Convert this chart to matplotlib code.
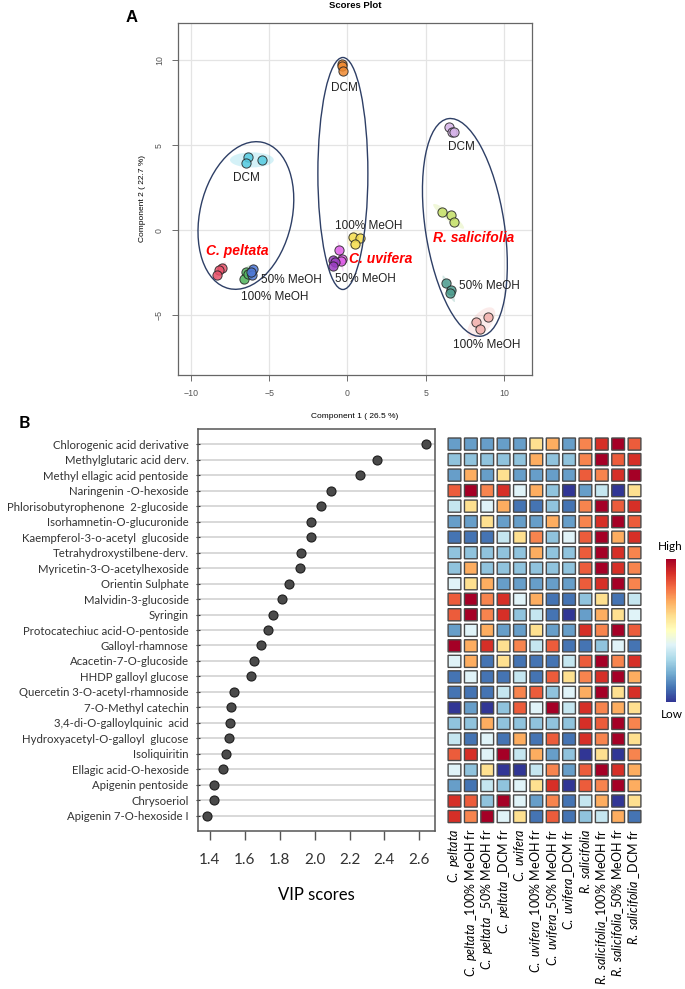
import numpy as np
import matplotlib
matplotlib.use('Agg')
import matplotlib.pyplot as plt
import matplotlib.transforms as mtransforms
from matplotlib.patches import Ellipse, Rectangle
from matplotlib import cm, colors

plt.rcParams['mathtext.fontset'] = 'custom'
plt.rcParams['mathtext.it'] = 'Lato:italic'
plt.rcParams['mathtext.rm'] = 'Lato'

# ---- panel A: PLS-DA scores (3 replicates per group) ----
groups = ['C. peltata', 'C. peltata 100% MeOH', 'C. peltata 50% MeOH', 'C. peltata DCM',
          'C. uvifera', 'C. uvifera 100% MeOH', 'C. uvifera 50% MeOH', 'C. uvifera DCM',
          'R. salicifolia', 'R. salicifolia 50% MeOH', 'R. salicifolia 100% MeOH', 'R. salicifolia DCM']
group_colors = ['#e8536b', '#55b560', '#4f79d6', '#55cbe0',
                '#e060e8', '#f5de50', '#9b3fc2', '#f08a30',
                '#c5e068', '#4f9e90', '#f2b0ac', '#d6b3e8']
comp1 = [[-8.00, -8.21, -8.32], [-6.50, -6.61, -6.35], [-6.02, -6.08, -6.15], [-6.38, -6.49, -5.45],
         [-0.52, -0.37, -0.42], [0.37, 0.80, 0.48], [-0.90, -0.80, -0.90], [-0.33, -0.36, -0.30],
         [6.02, 6.59, 6.80], [6.29, 6.59, 6.55], [8.96, 8.25, 8.47], [6.50, 6.70, 6.80]]
comp2 = [[-2.22, -2.31, -2.61], [-2.43, -2.88, -2.55], [-2.25, -2.59, -2.45], [4.34, 3.98, 4.13],
         [-1.12, -1.67, -1.80], [-0.39, -0.47, -0.82], [-1.75, -1.86, -2.10], [9.76, 9.70, 9.35],
         [1.10, 0.88, 0.51], [-3.08, -3.51, -3.70], [-5.08, -5.39, -5.82], [6.08, 5.78, 5.80]]

# ---- panel B: VIP scores and heatmap ----
compounds = ['Chlorogenic acid derivative', 'Methylglutaric acid derv.', 'Methyl ellagic acid pentoside',
             'Naringenin -O-hexoside', 'Phlorisobutyrophenone  2-glucoside', 'Isorhamnetin-O-glucuronide',
             'Kaempferol-3-o-acetyl  glucoside', 'Tetrahydroxystilbene-derv.', 'Myricetin-3-O-acetylhexoside',
             'Orientin Sulphate', 'Malvidin-3-glucoside', 'Syringin', 'Protocatechiuc acid-O-pentoside',
             'Galloyl-rhamnose', 'Acacetin-7-O-glucoside', 'HHDP galloyl glucose',
             'Quercetin 3-O-acetyl-rhamnoside', '7-O-Methyl catechin', '3,4-di-O-galloylquinic  acid',
             'Hydroxyacetyl-O-galloyl  glucose', 'Isoliquiritin', 'Ellagic acid-O-hexoside',
             'Apigenin pentoside', 'Chrysoeriol', 'Apigenin 7-O-hexoside I']
vip = [2.637, 2.360, 2.258, 2.092, 2.036, 1.977, 1.977, 1.924, 1.918, 1.855, 1.811, 1.763, 1.734,
       1.694, 1.650, 1.635, 1.536, 1.520, 1.517, 1.507, 1.492, 1.477, 1.425, 1.421, 1.381]

species = ['C. peltata'] * 4 + ['C. uvifera'] * 4 + ['R. salicifolia'] * 4
fractions = ['', ' _100% MeOH fr', ' _50% MeOH fr', ' _DCM fr',
             '', '_100% MeOH fr', '_50% MeOH fr', '_DCM fr',
             '', '_100% MeOH fr', '_50% MeOH fr', ' _DCM fr']

# standardised abundance per compound (rows) and sample group (columns)
heat = [
    [-1.3, -1.3, -1.3, -1.3, -1.3, 0.4, 0.8, -1.3, 1.05, 1.6, 2.0, 1.3],
    [-1.0, -1.0, -1.0, -1.0, -1.0, 0.8, -1.0, -1.0, 1.05, 2.0, 1.3, 1.6],
    [-1.3, 0.8, -1.3, 0.4, -1.3, -1.3, -1.3, -1.3, 1.3, 1.05, 1.6, 2.0],
    [1.3, 2.0, 1.05, 1.6, -0.4, 0.8, -1.0, -2.0, -1.3, -0.6, -2.0, 0.4],
    [-0.6, 0.4, -0.4, 0.8, -1.6, -1.6, -1.0, -1.6, 1.05, 2.0, 1.3, 1.6],
    [-1.3, -1.3, 0.4, -1.3, -1.3, -1.3, 0.8, -1.3, 1.05, 1.6, 2.0, 1.3],
    [-1.6, -1.6, -1.6, -0.6, 0.4, 1.05, -1.0, -0.4, 1.3, 2.0, 0.8, 1.6],
    [-1.0, -1.0, -1.0, -1.0, -1.0, 0.8, -1.0, -1.0, 1.3, 2.0, 1.6, 1.05],
    [-1.0, 0.8, -1.0, -1.0, -1.0, -1.0, -1.0, -1.0, 1.3, 2.0, 1.6, 1.05],
    [-0.4, 0.4, 0.8, -1.3, -1.3, -1.3, -1.3, -1.3, 1.3, 1.6, 2.0, 1.05],
    [1.3, 2.0, 1.05, 1.6, -0.4, 0.8, -1.6, -1.6, -1.0, 0.4, -1.6, -0.6],
    [1.3, 2.0, 1.05, 1.6, -1.0, -0.6, -1.6, -2.0, -1.3, 0.8, 0.4, -0.4],
    [-1.3, -0.4, 0.8, -1.3, -1.3, 0.4, -1.3, -1.3, 1.6, 1.05, 2.0, 1.3],
    [2.0, 0.8, 1.6, 0.4, 1.05, -0.6, 1.3, -1.6, -1.6, -1.0, -0.4, -1.6],
    [-0.4, 0.8, -1.6, 0.4, -1.6, -1.6, -1.6, -0.6, 1.3, 2.0, 1.05, 1.6],
    [-1.6, -0.4, -1.6, -1.6, -0.6, -1.6, 1.3, 0.4, 1.05, 1.6, 2.0, 0.8],
    [-1.6, -1.6, -1.6, -0.6, 1.05, 1.3, -1.0, -0.4, 0.8, 2.0, 0.4, 1.6],
    [-2.0, -1.3, -2.0, -1.0, 1.3, -0.4, 2.0, -0.6, 1.6, 1.05, 0.8, 0.4],
    [-1.0, -1.0, 0.8, -1.0, -1.0, -1.0, -1.0, -1.0, 1.6, 1.3, 2.0, 1.05],
    [-0.6, -1.6, -0.4, -1.6, 0.8, -1.6, 1.3, -1.6, 1.6, 1.05, 2.0, 0.4],
    [1.3, 1.6, -0.4, 2.0, -0.6, 0.8, -1.3, -1.0, -2.0, 0.4, -2.0, 1.05],
    [-0.4, -1.0, 0.4, -2.0, -2.0, -0.6, 1.05, -1.3, 1.3, 2.0, 1.6, 0.8],
    [-1.3, -1.6, -0.6, -1.0, -0.4, 0.4, 1.6, -2.0, 1.3, 1.05, 2.0, 0.8],
    [1.6, 1.3, -1.0, 2.0, -0.4, -1.3, 1.05, -1.6, -0.6, 0.8, -2.0, 0.4],
    [1.6, 1.05, 2.0, -0.4, 0.4, -1.6, 1.3, -1.6, -1.0, -0.6, 0.8, -1.6],
]

W, H = 685, 989
fig = plt.figure(figsize=(W / 100, H / 100), dpi=100)


def box(l, t, r, b):
    # pixel box -> figure fraction rect
    return [l / W, 1 - b / H, (r - l) / W, (b - t) / H]


arial = 'Liberation Sans'
calibri = 'Lato'

# ================= A =================
axA = fig.add_axes(box(178, 23, 532, 375))
axA.set_xlim(-10.83, 11.8)
axA.set_ylim(-8.5, 12.2)
axA.set_xticks([-10, -5, 0, 5, 10])
axA.set_yticks([-5, 0, 5, 10])
axA.grid(color='#e4e4e4', lw=0.9)
axA.set_axisbelow(True)
for s in axA.spines.values():
    s.set_color('#666666')
    s.set_linewidth(0.9)
axA.tick_params(colors='#555555', labelsize=6.3, length=4, width=0.6, pad=6)
for t in axA.get_xticklabels() + axA.get_yticklabels():
    t.set_family(arial)
for t in axA.get_yticklabels():
    t.set_rotation(90)
    t.set_va('center')


def conf_ellipse(ax, x, y, color, n_std=2.45):
    cov = np.cov(x, y)
    vals, vecs = np.linalg.eigh(cov)
    ang = np.degrees(np.arctan2(vecs[1, 1], vecs[0, 1]))
    w, h = 2 * n_std * np.sqrt(vals[1]), 2 * n_std * np.sqrt(vals[0])
    ax.add_patch(Ellipse((np.mean(x), np.mean(y)), w, h, angle=ang,
                         fc=color, ec='none', alpha=0.25, zorder=1))


for xs, ys, c in zip(comp1, comp2, group_colors):
    conf_ellipse(axA, np.array(xs), np.array(ys), c)
    axA.scatter(xs, ys, s=44, c=c, edgecolors='#222222', linewidths=0.7, alpha=0.85, zorder=3)


def hand_ellipse(ax, cx, cy, w_px, h_px, ang):
    tr = fig.dpi_scale_trans + mtransforms.ScaledTranslation(cx, cy, ax.transData)
    ax.add_patch(Ellipse((0, 0), w_px / 100, h_px / 100, angle=ang, transform=tr,
                         fill=False, ec='#2e3f66', lw=1.0, zorder=4))


hand_ellipse(axA, -6.49, 0.88, 92, 150, -13)
hand_ellipse(axA, -0.29, 3.35, 50, 232, 0)
hand_ellipse(axA, 7.51, 0.18, 79, 220, 8.7)

labs = [('DCM', -6.44, 3.06), ('DCM', -0.22, 8.35), ('DCM', 7.30, 4.90),
        ('100% MeOH', 1.33, 0.25), ('50% MeOH', 1.16, -2.84),
        ('50% MeOH', -3.61, -2.92), ('100% MeOH', -4.68, -3.90),
        ('50% MeOH', 9.06, -3.27), ('100% MeOH', 8.89, -6.75)]
for s, x, y in labs:
    axA.text(x, y, s, ha='center', va='center', fontsize=8.5, color='#222222', family=arial, zorder=5)
for s, x, y in [('C. peltata', -7.04, -1.18), ('C. uvifera', 2.14, -1.67), ('R. salicifolia', 8.08, -0.47)]:
    axA.text(x, y, s, ha='center', va='center', fontsize=10, color='#ff0000',
             fontweight='bold', style='italic', family=arial, zorder=5)

fig.text(355 / W, 1 - 6 / H, 'Scores Plot', ha='center', va='center', fontsize=6.8,
         fontweight='bold', family=arial)
fig.text(355 / W, 1 - 416 / H, 'Component 1 ( 26.5 %)', ha='center', va='center', fontsize=6, family=arial)
fig.text(142 / W, 1 - 199 / H, 'Component 2 ( 22.7 %)', ha='center', va='center', fontsize=6,
         rotation=90, family=arial)
fig.text(132 / W, 1 - 18 / H, 'A', ha='center', va='center', fontsize=12, fontweight='bold', family=arial)

# ================= B: VIP =================
fig.text(24 / W, 1 - 423 / H, 'B', ha='center', va='center', fontsize=12.5, fontweight='bold', family=calibri)

axV = fig.add_axes(box(197.7, 429, 435, 831))
ypos = np.arange(len(compounds))
axV.set_xlim(1.33, 2.69)
axV.set_ylim(len(compounds) - 1 + 0.97, -0.97)
axV.set_yticks(ypos)
axV.set_yticklabels(compounds, fontsize=8.2, family=calibri)
axV.grid(axis='y', color='#d6d6d6', lw=1.3)
axV.set_axisbelow(True)
axV.plot(vip, ypos, 'o', ms=6.5, mfc='#4a4a4a', mec='#1e1e1e', mew=0.8, zorder=3)
xt = np.arange(1.4, 2.61, 0.2)
axV.set_xticks(xt)
axV.set_xticklabels(['%.1f' % v for v in xt], fontsize=11, family=calibri, color='#333333')
axV.tick_params(axis='y', direction='inout', length=3, width=0.8, pad=5, colors='#333333')
axV.tick_params(axis='x', direction='out', length=6.5, width=1.0, pad=9, color='#555555')
for s in axV.spines.values():
    s.set_color('#555555')
    s.set_linewidth(1.1)
fig.text(316 / W, 1 - 895 / H, 'VIP scores', ha='center', va='center', fontsize=12, family=calibri)

# ================= B: heatmap =================
cmap = plt.get_cmap('RdYlBu_r')
norm = colors.Normalize(-2, 2)
axH = fig.add_axes(box(446.3, 436.3, 642.7, 824.3))
axH.set_xlim(0, 12)
axH.set_ylim(25, 0)
gap = 0.11
for i, row in enumerate(heat):
    for j, v in enumerate(row):
        axH.add_patch(Rectangle((j + gap, i + gap), 1 - 2 * gap, 1 - 2 * gap, fc=cmap(norm(v)),
                                ec='#4a4a4a', lw=1.0, snap=False))
axH.set_xticks(np.arange(12) + 0.5)
axH.set_xticklabels([r'$\mathit{%s}$' % sp.replace(' ', r'\ ') + fr for sp, fr in zip(species, fractions)],
                    rotation=90, fontsize=9, family=calibri)
axH.tick_params(length=0, pad=3)
axH.set_yticks([])
for s in axH.spines.values():
    s.set_visible(False)

axC = fig.add_axes(box(665.7, 559, 675.7, 702))
cb = fig.colorbar(cm.ScalarMappable(norm=norm, cmap=cmap), cax=axC)
cb.set_ticks([])
cb.outline.set_visible(False)
fig.text(670 / W, 1 - 547 / H, 'High', ha='center', va='center', fontsize=8.5, family=calibri)
fig.text(672 / W, 1 - 715 / H, 'Low', ha='center', va='center', fontsize=8.5, family=calibri)

fig.savefig('out.png', dpi=100)
